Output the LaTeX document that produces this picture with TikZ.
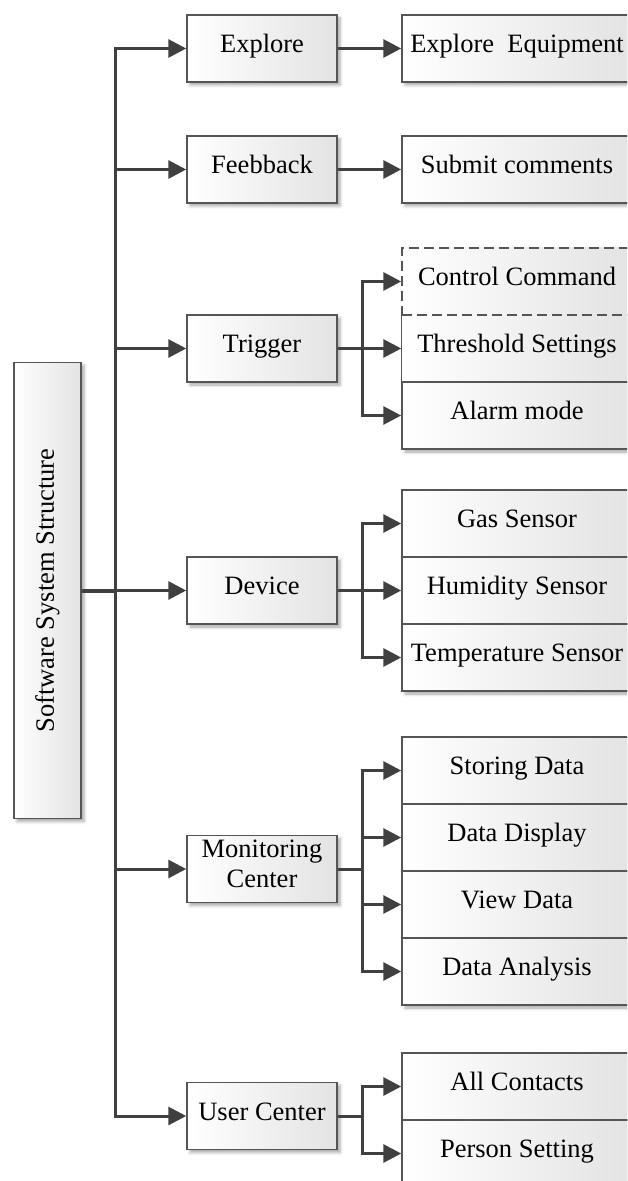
\documentclass[tikz,border=0pt]{standalone}
\usepackage{fontspec}
\setmainfont{Liberation Serif}
\usetikzlibrary{arrows.meta,shadows.blur}
\definecolor{linegray}{HTML}{404040}
\definecolor{edgegray}{HTML}{555555}
\begin{document}
\begin{tikzpicture}[x=0.5pt,y=-0.5pt,
  font=\fontsize{13.25pt}{15pt}\selectfont,
  boxbase/.style={draw=edgegray, line width=0.75pt,
    left color=white, right color=black!11,
    inner xsep=2pt, inner ysep=0pt},
  shadowed/.style={blur shadow={shadow xshift=1.5pt, shadow yshift=-1.5pt,
    shadow blur radius=1.5pt, shadow opacity=35}},
  oneline/.style={text height=9.2pt, text depth=4.8pt},
  mainbox/.style={boxbase, shadowed, oneline, minimum width=75pt, minimum height=33.5pt},
  leafbox/.style={boxbase, shadowed, oneline, minimum width=115pt, minimum height=33.5pt},
  conn/.style={draw=linegray, line width=1.5pt},
  arr/.style={conn, -{Triangle[length=9pt,width=9pt]}},
]
\path[use as bounding box, clip] (0,0) rectangle (627,1181);

% root
\node[boxbase, shadowed, minimum width=33.5pt, minimum height=228pt] (root) at (47.5,590.5)
  {\rotatebox{90}{Software System Structure}};

% first level
\node[mainbox] (explore)  at (262,48.5)  {Explore};
\node[mainbox] (feedback) at (262,169.5) {Feebback};
\node[mainbox] (trigger)  at (262,348.5) {Trigger};
\node[mainbox] (device)   at (262,590.5) {Device};
\node[boxbase, shadowed, minimum width=75pt, minimum height=33.5pt] (monitor) at (262,869)
  {\raisebox{-9.4pt}[0pt][0pt]{\begin{tabular}[b]{@{}c@{}}Monitoring\\Center\end{tabular}}};
\node[mainbox] (user)     at (262,1116)  {User Center};

% second level
\node[leafbox] (eq)  at (517,48.5)  {Explore\ \ Equipment};
\node[leafbox] (sub) at (517,169.5) {Submit comments};

\node[leafbox, draw=none] (th) at (517,348.5) {Threshold Settings};
\node[leafbox] (al) at (517,415.5) {Alarm mode};
\node[boxbase, oneline, minimum width=115pt, minimum height=33.5pt,
      dash pattern=on 5pt off 2.5pt] (cc) at (517,281.5) {Control Command};
\draw[edgegray, line width=0.75pt] (th.north west) -- (th.south west) -- (th.south east);

\node[leafbox] (gas)  at (517,523.5) {Gas Sensor};
\node[leafbox] (hum)  at (517,590.5) {Humidity Sensor};
\node[leafbox] (temp) at (517,657.5) {Temperature Sensor};

\node[leafbox] (sd) at (517,770.5) {Storing Data};
\node[leafbox] (dd) at (517,837.5) {Data Display};
\node[leafbox] (vd) at (517,904.5) {View Data};
\node[leafbox] (da) at (517,971.5) {Data Analysis};

\node[leafbox] (ac) at (517,1086.5) {All Contacts};
\node[leafbox] (ps) at (517,1153.5) {Person Setting};

% trunk and first-level arrows
\coordinate (trunk) at (115,0);
\coordinate (fork) at (362,0);
\draw[conn, line width=2pt] (root.east) -- (root.east -| trunk);
\draw[conn, line cap=rect] (explore.west -| trunk) -- (user.west -| trunk);
\foreach \n in {explore,feedback,trigger,device,monitor,user}
  \draw[arr] (\n.west -| trunk) -- (\n.west);

% single children
\draw[arr] (explore.east) -- (eq.west);
\draw[arr] (feedback.east) -- (sub.west);

% forks
\draw[conn] (trigger.east) -- (trigger.east -| fork);
\draw[conn, line cap=rect] (cc.west -| fork) -- (al.west -| fork);
\foreach \n in {cc,th,al} \draw[arr] (\n.west -| fork) -- (\n.west);

\draw[conn] (device.east) -- (device.east -| fork);
\draw[conn, line cap=rect] (gas.west -| fork) -- (temp.west -| fork);
\foreach \n in {gas,hum,temp} \draw[arr] (\n.west -| fork) -- (\n.west);

\draw[conn] (monitor.east) -- (monitor.east -| fork);
\draw[conn, line cap=rect] (sd.west -| fork) -- (da.west -| fork);
\foreach \n in {sd,dd,vd,da} \draw[arr] (\n.west -| fork) -- (\n.west);

\draw[conn] (user.east) -- (user.east -| fork);
\draw[conn, line cap=rect] (ac.west -| fork) -- (ps.west -| fork);
\foreach \n in {ac,ps} \draw[arr] (\n.west -| fork) -- (\n.west);
\end{tikzpicture}
\end{document}
